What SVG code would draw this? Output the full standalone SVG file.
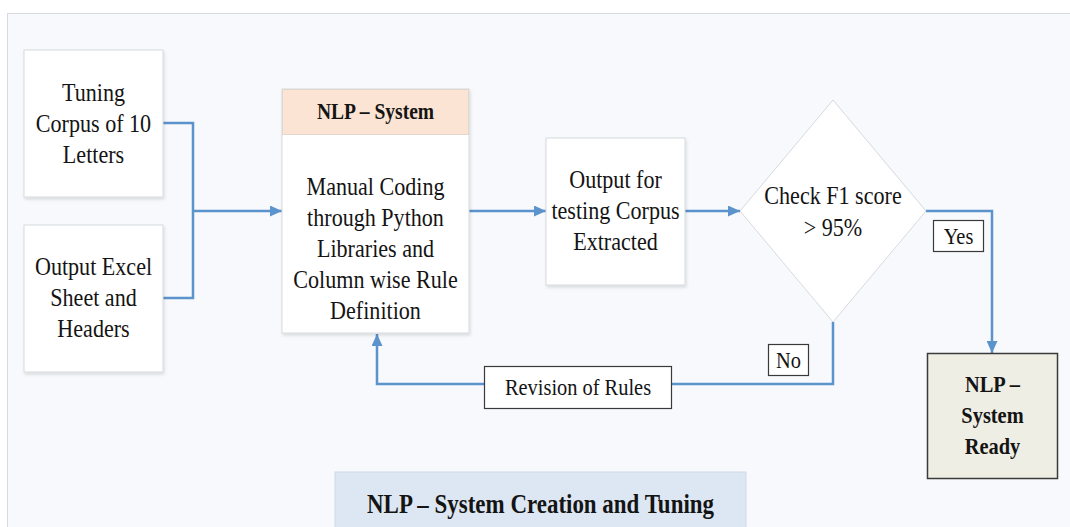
<svg xmlns="http://www.w3.org/2000/svg" width="1070" height="527" viewBox="0 0 1070 527">
  <style>
    .t { font-family: 'Liberation Serif', 'DejaVu Serif', serif; font-size: 26px; fill: #141414; text-anchor: middle; }
    .b { font-weight: bold; }
    .lbl { font-size: 24px; }
    .card { fill: #ffffff; stroke: #d6d9de; stroke-width: 1; filter: url(#shadow); }
    .tag { fill: #ffffff; stroke: #3a3a3a; stroke-width: 1.2; }
    .wire { fill: none; stroke: #5b93cc; stroke-width: 2.5; }
  </style>
  <defs>
    <filter id="shadow" x="-10%" y="-10%" width="125%" height="125%">
      <feDropShadow dx="1" dy="2" stdDeviation="1.5" flood-color="#000000" flood-opacity="0.12"/>
    </filter>
    <marker id="arrow" markerUnits="userSpaceOnUse" markerWidth="12" markerHeight="11" refX="12" refY="5.5" orient="auto">
      <path d="M0,0 L12,5.5 L0,11 z" fill="#5b93cc"/>
    </marker>
  </defs>

  <!-- page panel -->
  <rect x="0" y="0" width="1070" height="527" fill="#ffffff"/>
  <rect x="7.5" y="13.5" width="1070" height="520" fill="#f7f9fc" stroke="#d8dadd" stroke-width="1"/>

  <!-- connectors -->
  <g id="connectors">
    <polyline class="wire" points="163,123 193,123 193,298 163,298"/>
    <line class="wire" x1="193" y1="211" x2="282" y2="211" marker-end="url(#arrow)"/>
    <line class="wire" x1="469" y1="211" x2="546" y2="211" marker-end="url(#arrow)"/>
    <line class="wire" x1="685" y1="211" x2="740" y2="211" marker-end="url(#arrow)"/>
    <polyline class="wire" points="926,211 992,211 992,353" marker-end="url(#arrow)"/>
    <polyline class="wire" points="833,322 833,384 672,384"/>
    <polyline class="wire" points="484,384 377,384 377,334" marker-end="url(#arrow)"/>
  </g>

  <g id="tuning-corpus">
    <rect class="card" x="24" y="50" width="139" height="147"/>
    <text class="t" transform="translate(93.5 101) scale(0.85 1)">Tuning</text>
    <text class="t" transform="translate(93.5 132) scale(0.85 1)">Corpus of 10</text>
    <text class="t" transform="translate(93.5 163) scale(0.85 1)">Letters</text>
  </g>

  <g id="output-excel">
    <rect class="card" x="24" y="225" width="139" height="147"/>
    <text class="t" transform="translate(93.5 275) scale(0.85 1)">Output Excel</text>
    <text class="t" transform="translate(93.5 306) scale(0.85 1)">Sheet and</text>
    <text class="t" transform="translate(93.5 337) scale(0.85 1)">Headers</text>
  </g>

  <g id="nlp-system">
    <rect class="card" x="282" y="89" width="187" height="244"/>
    <rect x="282.5" y="89.5" width="186" height="45" fill="#fbe4d3" stroke="#e3d6cc" stroke-width="1"/>
    <text class="t b" style="font-size:23px" transform="translate(375.5 119) scale(0.85 1)">NLP – System</text>
    <text class="t" transform="translate(375.5 195) scale(0.85 1)">Manual Coding</text>
    <text class="t" transform="translate(375.5 226) scale(0.85 1)">through Python</text>
    <text class="t" transform="translate(375.5 257) scale(0.85 1)">Libraries and</text>
    <text class="t" transform="translate(375.5 288) scale(0.85 1)">Column wise Rule</text>
    <text class="t" transform="translate(375.5 319) scale(0.85 1)">Definition</text>
  </g>

  <g id="output-testing">
    <rect class="card" x="546" y="138" width="139" height="147"/>
    <text class="t" transform="translate(615.5 188) scale(0.85 1)">Output for</text>
    <text class="t" transform="translate(615.5 219) scale(0.85 1)">testing Corpus</text>
    <text class="t" transform="translate(615.5 250) scale(0.85 1)">Extracted</text>
  </g>

  <g id="check-f1">
    <polygon points="740,211 833,100 926,211 833,322" fill="#ffffff" stroke="#d6d9de" stroke-width="1"/>
    <text class="t" transform="translate(833 204) scale(0.85 1)">Check F1 score</text>
    <text class="t" transform="translate(833 236) scale(0.85 1)">&gt;  95%</text>
  </g>

  <g id="yes-label">
    <rect class="tag" x="933.5" y="220.5" width="50" height="31"/>
    <text class="t lbl" transform="translate(958.5 244) scale(0.85 1)">Yes</text>
  </g>

  <g id="no-label">
    <rect class="tag" x="768.5" y="344.5" width="40" height="31"/>
    <text class="t lbl" transform="translate(788.5 368) scale(0.85 1)">No</text>
  </g>

  <g id="revision-of-rules">
    <rect class="tag" x="484.5" y="366.5" width="187" height="42"/>
    <text class="t lbl" transform="translate(578 395) scale(0.85 1)">Revision of Rules</text>
  </g>

  <g id="nlp-ready">
    <rect x="927.5" y="353.5" width="130" height="125" fill="#efeee5" stroke="#3a3a3a" stroke-width="1.5"/>
    <text class="t b lbl" transform="translate(992.5 392) scale(0.85 1)">NLP –</text>
    <text class="t b lbl" transform="translate(992.5 423) scale(0.85 1)">System</text>
    <text class="t b lbl" transform="translate(992.5 454) scale(0.85 1)">Ready</text>
  </g>

  <g id="title">
    <rect x="335" y="472" width="411" height="60" fill="#dde7f3" stroke="#cfdae8" stroke-width="1"/>
    <text class="t b" style="font-size:27px" transform="translate(540.5 513) scale(0.85 1)">NLP – System Creation and Tuning</text>
  </g>
</svg>
